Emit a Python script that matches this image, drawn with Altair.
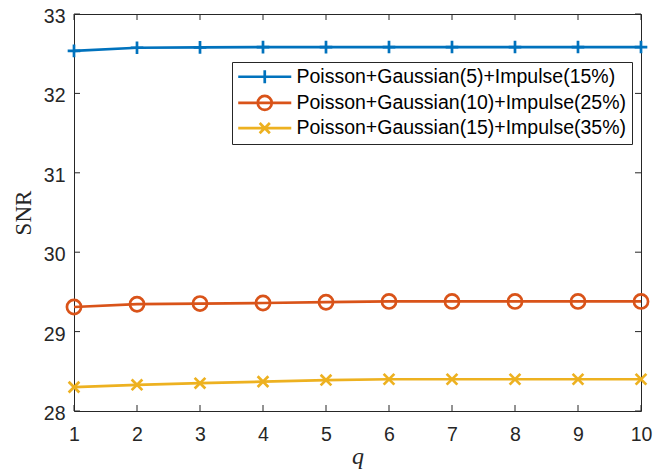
import altair as alt
import pandas as pd

q_values = [1, 2, 3, 4, 5, 6, 7, 8, 9, 10]
series_names = [
    "Poisson+Gaussian(5)+Impulse(15%)",
    "Poisson+Gaussian(10)+Impulse(25%)",
    "Poisson+Gaussian(15)+Impulse(35%)",
]
snr_s1 = [32.535, 32.575, 32.58, 32.582, 32.583, 32.584, 32.584, 32.584, 32.584, 32.584]
snr_s2 = [29.31, 29.345, 29.353, 29.36, 29.37, 29.38, 29.38, 29.38, 29.38, 29.38]
snr_s3 = [28.30, 28.33, 28.35, 28.37, 28.39, 28.40, 28.40, 28.40, 28.40, 28.40]
y_ticks = [28, 29, 30, 31, 32, 33]
colors = ["#0072BD", "#D95319", "#EDB120"]

rows = []
for name, vals in zip(series_names, [snr_s1, snr_s2, snr_s3]):
    for q, v in zip(q_values, vals):
        rows.append({"q": q, "SNR": v, "series": name})
df = pd.DataFrame(rows)
xt = pd.DataFrame({"q": q_values})
yt = pd.DataFrame({"v": y_ticks})

W, H = 567, 397
AX = "#262626"

xscale = alt.Scale(domain=[1, 10], nice=False, zero=False)
yscale = alt.Scale(domain=[28, 33], nice=False, zero=False)
cscale = alt.Scale(domain=series_names, range=colors)

xaxis = alt.Axis(values=q_values, format="d", ticks=False, domain=False, grid=False,
                 labelFlush=False, labelOverlap=False,
                 labelPadding=14, labelFont="Liberation Sans", labelFontSize=19.5,
                 labelColor=AX, title="q", titleFont="Liberation Serif",
                 titleFontStyle="italic", titleFontWeight="normal", titleFontSize=24,
                 titleColor=AX, titleX=W / 2, titleY=52, titleBaseline="alphabetic")
yaxis = alt.Axis(values=y_ticks, format="d", ticks=False, domain=False, grid=False,
                 labelFlush=False, labelOverlap=False,
                 labelPadding=9, labelOffset=2.5, labelFont="Liberation Sans",
                 labelFontSize=19.5, labelColor=AX, title="SNR",
                 titleFont="Liberation Serif", titleFontWeight="normal",
                 titleFontSize=23, titleColor=AX, titleX=-50.5, titleY=H / 2,
                 titleAngle=270, titleAlign="center", titleBaseline="middle")

leg = alt.Legend(title=None, orient="none", legendX=158, legendY=48)

base = alt.Chart(df)

u = 4.42
legend_paths = [
    f"M-{u},0H{u}M0,-1.1V1.1",
    f"M-{u},0H{u}M1.17,0A1.17,1.17,0,1,1,-1.17,0A1.17,1.17,0,1,1,1.17,0",
    f"M-{u},0H{u}M-0.85,-0.85L0.85,0.85M-0.85,0.85L0.85,-0.85",
]
legend_layer = base.transform_filter("false").mark_point(
    filled=False, strokeWidth=2.6, opacity=1, size=144
).encode(
    x=alt.X("q:Q", scale=xscale, axis=xaxis),
    y=alt.Y("SNR:Q", scale=yscale, axis=yaxis),
    color=alt.Color("series:N", scale=cscale, legend=leg),
    shape=alt.Shape("series:N", scale=alt.Scale(domain=series_names, range=legend_paths),
                    legend=leg),
)

lines = base.mark_line(strokeWidth=2.7).encode(
    x="q:Q", y="SNR:Q",
    color=alt.Color("series:N", scale=cscale, legend=leg),
)

marker_paths = [
    ("M-1,0H1M0,-1V1", 160),
    ("circle", 200),
    ("M-1,-1L1,1M-1,1L1,-1", 115),
]
point_layers = []
for name, (shape, size) in zip(series_names, marker_paths):
    point_layers.append(
        base.transform_filter(alt.datum.series == name)
        .mark_point(shape=shape, size=size, filled=False, strokeWidth=2.7, opacity=1)
        .encode(x="q:Q", y="SNR:Q",
                color=alt.Color("series:N", scale=cscale, legend=leg))
    )

tick_len = 6
bottom_ticks = alt.Chart(xt).mark_rule(color=AX, strokeWidth=1).encode(
    x="q:Q", y=alt.value(H), y2=alt.value(H - tick_len))
top_ticks = alt.Chart(xt).mark_rule(color=AX, strokeWidth=1).encode(
    x="q:Q", y=alt.value(0), y2=alt.value(tick_len))
left_ticks = alt.Chart(yt).mark_rule(color=AX, strokeWidth=1).encode(
    y=alt.Y("v:Q"), x=alt.value(0), x2=alt.value(tick_len))
right_ticks = alt.Chart(yt).mark_rule(color=AX, strokeWidth=1).encode(
    y=alt.Y("v:Q"), x=alt.value(W), x2=alt.value(W - tick_len))

chart = alt.layer(
    legend_layer, bottom_ticks, top_ticks, left_ticks, right_ticks,
    lines, *point_layers
).properties(
    width=W, height=H,
    autosize=alt.AutoSizeParams(type="none"),
    padding={"left": 66, "top": 6, "right": 20, "bottom": 60},
    background="white",
).configure_view(
    stroke=AX, strokeWidth=1
).configure_legend(
    fillColor="white", strokeColor=AX, strokeWidth=1,
    padding=5, rowPadding=1.2, symbolOffset=18, labelOffset=22,
    labelFont="Liberation Sans", labelFontSize=19.5, labelColor="#000000",
    symbolStrokeWidth=2.7, symbolSize=144, labelLimit=500,
)

chart.save("out.html", embed_options={"renderer": "svg", "actions": False})
